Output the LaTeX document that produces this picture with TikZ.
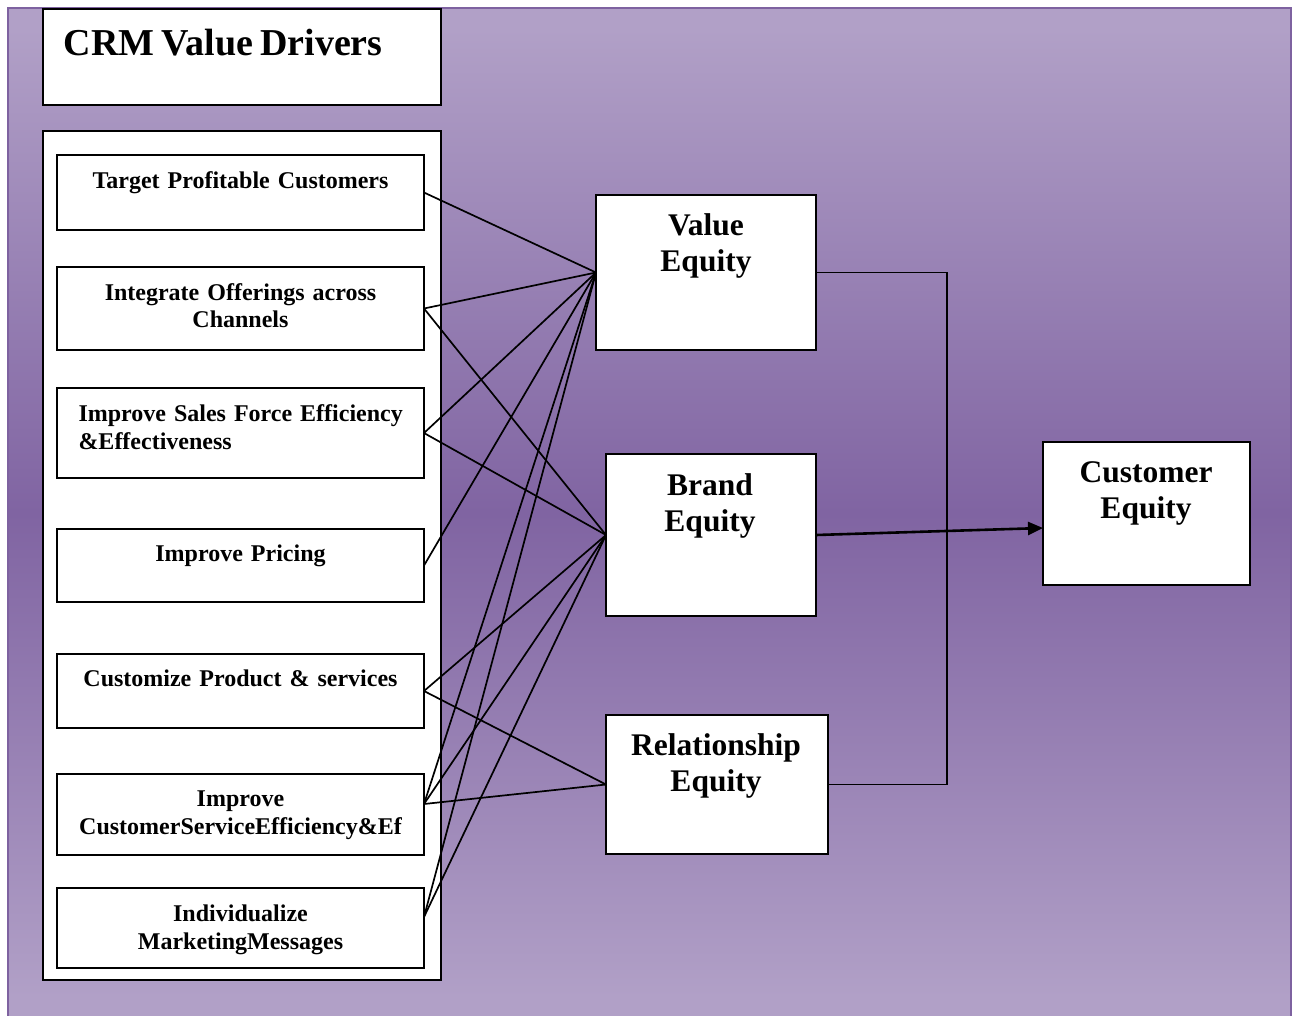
\documentclass[tikz,border=0pt]{standalone}
\usepackage{fontspec}
\setmainfont{Liberation Serif}[WordSpace=0.75]
\usetikzlibrary{arrows.meta}
\definecolor{bgl}{HTML}{B1A0C7}
\definecolor{bgd}{HTML}{8064A2}
\definecolor{bgb}{HTML}{7E62A0}
\pgfdeclareverticalshading{bgshade}{100bp}{color(0bp)=(bgl); color(26bp)=(bgl); color(50bp)=(bgd); color(74bp)=(bgl); color(100bp)=(bgl)}
\tikzset{
  box/.style={draw=black, line width=1.8pt, fill=white, inner sep=0pt, outer sep=0pt},
  smalltxt/.style={font=\fontsize{24}{27.5}\selectfont\bfseries, text width=360pt, align=center, anchor=base, inner sep=0pt},
  bigtxt/.style={font=\fontsize{31.5}{36}\selectfont\bfseries, text width=220pt, align=center, anchor=base, inner sep=0pt},
  link/.style={draw=black, line width=1.7pt},
}
\begin{document}
\begin{tikzpicture}[x=1pt,y=-1pt]
\useasboundingbox (0,0) rectangle (1292,1015);
\clip (0,0) rectangle (1292,1015);
% background
\path[shading=bgshade] (8,8) rectangle (1291,1018);
\draw[bgb, line width=2pt] (8,8) rectangle (1291,1018);
% title
\node[box, minimum width=398pt, minimum height=96pt] (title) at (242,57) {};
\node[font=\fontsize{38}{41}\selectfont\bfseries, anchor=base west, inner sep=0pt] (titletxt) at (63.5,55) {CRM Value Drivers};
% container
\node[box, minimum width=398pt, minimum height=849pt] (cont) at (242,555.5) {};
% driver boxes
\node[box, minimum width=367pt, minimum height=75pt] (tpc) at (240.5,192.5) {};
\node[box, minimum width=367pt, minimum height=83pt] (iof) at (240.5,308.5) {};
\node[box, minimum width=367pt, minimum height=90pt] (isf) at (240.5,433) {};
\node[box, minimum width=367pt, minimum height=73pt] (ipr) at (240.5,565.5) {};
\node[box, minimum width=367pt, minimum height=74pt] (cps) at (240.5,691) {};
\node[box, minimum width=367pt, minimum height=81pt] (ics) at (240.5,814.5) {};
\node[box, minimum width=367pt, minimum height=80pt] (imm) at (240.5,928) {};
\node[smalltxt] (tpct) at (240.5,188) {Target Profitable Customers};
\node[smalltxt] (ioft) at (240.5,300) {Integrate Offerings across\\Channels};
\node[smalltxt, text width=330pt, align=left, anchor=base west] (isft) at (78.3,421.7) {\makebox[323.4pt][s]{Improve Sales Force Efficiency}\\\&Effectiveness};
\node[smalltxt] (iprt) at (240.5,561.7) {Improve Pricing};
\node[smalltxt] (cpst) at (240.5,686.7) {Customize Product \& services};
\node[smalltxt] (icst) at (240.5,806.7) {Improve\\CustomerServiceEfficiency\&Ef};
\node[smalltxt] (immt) at (240.5,921.7) {Individualize\\MarketingMessages};
% equity boxes
\node[box, minimum width=220pt, minimum height=155pt] (val) at (706,272.5) {};
\node[box, minimum width=210pt, minimum height=162pt] (brd) at (711,535) {};
\node[box, minimum width=222pt, minimum height=139pt] (rel) at (717,784.5) {};
\node[box, minimum width=207pt, minimum height=143pt] (cus) at (1146.5,513.5) {};
\node[bigtxt] (valt) at (706,235) {Value\\Equity};
\node[bigtxt] (brdt) at (710,495) {Brand\\Equity};
\node[bigtxt] (relt) at (716,755) {Relationship\\Equity};
\node[bigtxt] (cust) at (1146,482) {Customer\\Equity};
% anchor points
\coordinate (icsA) at (424,804);
\coordinate (immA) at (424,917);
\coordinate (brdO) at (816,535);
\coordinate (cusI) at (1043,528);
% connectors to Value Equity
\draw[link] (tpc.east) -- (val.west);
\draw[link] (iof.east) -- (val.west);
\draw[link] (isf.east) -- (val.west);
\draw[link] (ipr.east) -- (val.west);
\draw[link] (icsA) -- (val.west);
\draw[link] (immA) -- (val.west);
% connectors to Brand Equity
\draw[link] (iof.east) -- (brd.west);
\draw[link] (isf.east) -- (brd.west);
\draw[link] (cps.east) -- (brd.west);
\draw[link] (icsA) -- (brd.west);
\draw[link] (immA) -- (brd.west);
% connectors to Relationship Equity
\draw[link] (cps.east) -- (rel.west);
\draw[link] (icsA) -- (rel.west);
% bracket
\draw[link] (val.east) -- ++(131,0) |- (rel.east);
% arrow
\draw[line width=2.6pt, -{Triangle[length=15pt,width=13pt]}] (brdO) -- (cusI);
\end{tikzpicture}
\end{document}
